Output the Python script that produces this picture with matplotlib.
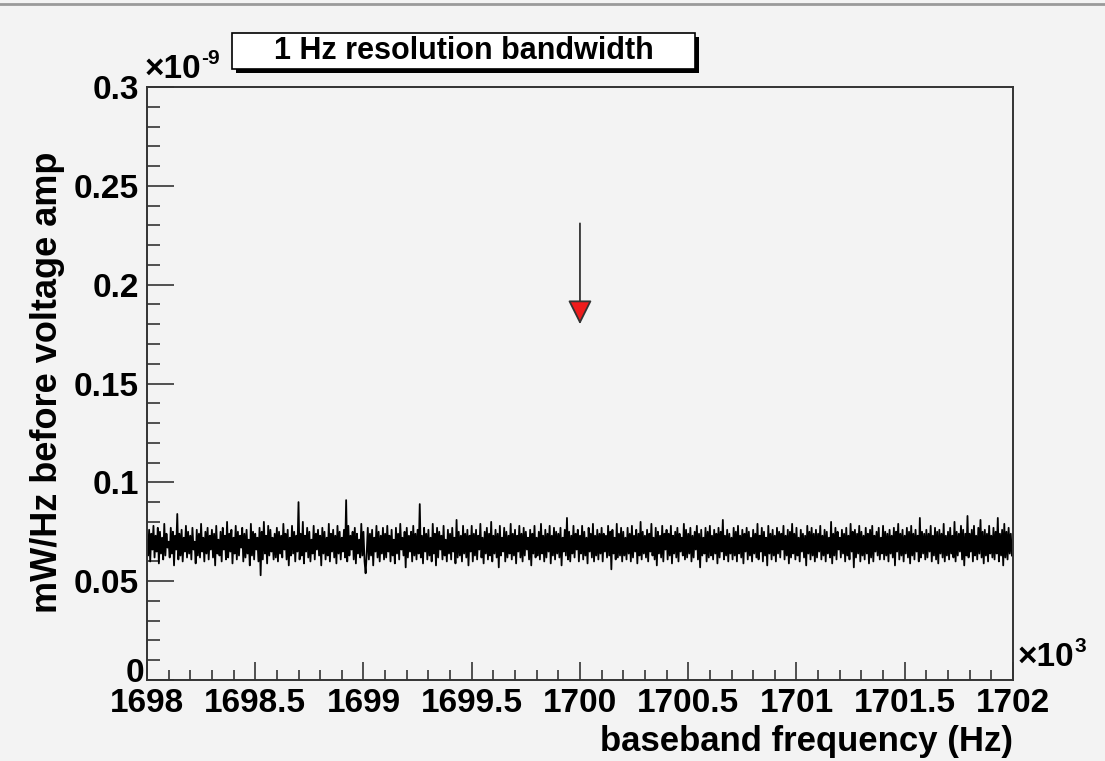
"""
1 Hz resolution bandwidth spectrum around 1.7 MHz (ROOT style canvas)
"""
import numpy as np
import matplotlib.pyplot as plt
from matplotlib.patches import Rectangle
from matplotlib.lines import Line2D
from matplotlib.transforms import ScaledTranslation

plt.rcParams['font.family'] = ['Liberation Sans', 'DejaVu Sans']
plt.rcParams['font.weight'] = 'bold'

# spectrum, in units of 1e-12 mW/Hz, 5 Hz apart from 1698 kHz
power = [
    71, 63, 76, 60, 74, 66, 78, 62, 73, 65, 77, 59, 75, 64, 72, 61, 79, 63, 74, 67,
    70, 62, 77, 64, 75, 58, 73, 66, 84, 61, 74, 63, 76, 60, 72, 65, 78, 62, 75, 64,
    73, 61, 77, 66, 70, 59, 76, 63, 74, 62, 79, 65, 72, 60, 75, 64, 77, 61, 73, 66,
    76, 62, 74, 58, 78, 64, 71, 63, 75, 60, 77, 66, 73, 61, 80, 62, 74, 65, 76, 59,
    72, 64, 78, 61, 75, 63, 73, 67, 77, 60, 74, 62, 76, 64, 71, 58, 79, 63, 75, 61,
    74, 66, 72, 60, 77, 53, 75, 61, 80, 64, 73, 59, 78, 63, 76, 65, 72, 61, 74, 62,
    77, 60, 75, 64, 73, 62, 79, 66, 74, 61, 76, 58, 72, 63, 78, 64, 75, 60, 73, 65,
    90, 61, 74, 63, 80, 59, 73, 65, 77, 62, 75, 60, 71, 64, 78, 61, 74, 66, 76, 63,
    73, 58, 77, 64, 75, 61, 72, 63, 79, 60, 74, 65, 76, 62, 73, 59, 78, 64, 75, 61,
    72, 65, 76, 62, 91, 60, 78, 63, 73, 66, 75, 61, 77, 59, 74, 64, 71, 62, 79, 63,
    75, 60, 54, 64, 77, 61, 74, 63, 76, 58, 72, 65, 78, 62, 75, 60, 73, 64, 77, 61,
    74, 62, 78, 65, 73, 60, 76, 63, 71, 59, 77, 64, 74, 61, 79, 66, 72, 63, 75, 57,
    77, 62, 73, 65, 75, 60, 78, 63, 74, 61, 76, 64, 89, 62, 73, 59, 77, 65, 74, 61,
    76, 63, 72, 60, 79, 64, 74, 58, 77, 62, 75, 66, 73, 61, 78, 63, 71, 60, 76, 64,
    74, 61, 77, 65, 72, 59, 81, 62, 75, 63, 73, 60, 78, 64, 74, 62, 76, 58, 73, 65,
    78, 60, 74, 63, 76, 61, 73, 66, 79, 62, 72, 59, 75, 64, 77, 61, 74, 63, 80, 60,
    73, 64, 76, 62, 74, 57, 78, 63, 72, 65, 77, 60, 75, 62, 73, 64, 79, 61, 74, 63,
    76, 59, 73, 65, 78, 62, 74, 60, 77, 63, 75, 66, 72, 61, 76, 58, 74, 64, 78, 62,
    72, 63, 75, 61, 79, 64, 73, 60, 76, 62, 74, 65, 78, 59, 73, 63, 77, 61, 75, 64,
    74, 62, 77, 58, 72, 65, 76, 63, 82, 61, 75, 60, 73, 64, 78, 62, 74, 66, 76, 60,
    73, 64, 78, 61, 75, 63, 72, 59, 77, 65, 74, 62, 79, 60, 73, 63, 76, 61, 74, 64,
    77, 60, 74, 65, 73, 62, 78, 63, 75, 56, 76, 64, 72, 61, 79, 62, 74, 63, 77, 60,
    75, 63, 72, 61, 77, 64, 74, 60, 78, 62, 73, 65, 76, 59, 74, 63, 80, 61, 75, 64,
    73, 62, 76, 60, 74, 65, 79, 63, 72, 61, 77, 58, 75, 64, 73, 62, 78, 60, 74, 66,
    76, 61, 74, 63, 78, 59, 73, 64, 75, 62, 77, 60, 74, 65, 72, 63, 79, 61, 76, 62,
    74, 64, 77, 60, 73, 62, 75, 66, 78, 61, 74, 57, 76, 63, 72, 64, 77, 60, 75, 62,
    78, 63, 73, 61, 76, 64, 74, 59, 77, 62, 75, 65, 81, 61, 73, 63, 76, 60, 74, 64,
    72, 61, 77, 63, 75, 60, 78, 64, 73, 62, 76, 59, 74, 65, 77, 61, 75, 63, 72, 60,
    76, 64, 74, 62, 79, 61, 73, 65, 77, 60, 75, 63, 72, 58, 78, 64, 74, 61, 76, 63,
    73, 60, 77, 64, 75, 62, 74, 66, 78, 61, 73, 63, 76, 59, 75, 62, 79, 64, 74, 61,
    77, 63, 72, 60, 76, 65, 74, 62, 73, 58, 78, 64, 75, 61, 77, 63, 74, 60, 76, 62,
    74, 65, 78, 61, 73, 63, 76, 60, 75, 64, 72, 62, 80, 59, 74, 63, 77, 61, 75, 66,
    72, 62, 76, 64, 74, 60, 77, 63, 73, 61, 79, 65, 75, 57, 76, 62, 74, 64, 78, 60,
    75, 63, 73, 61, 77, 64, 74, 59, 76, 62, 78, 60, 73, 65, 75, 63, 77, 61, 72, 64,
    78, 61, 75, 63, 74, 60, 76, 64, 73, 62, 77, 58, 75, 65, 79, 61, 74, 63, 76, 60,
    73, 64, 77, 62, 75, 59, 78, 63, 74, 61, 76, 65, 73, 60, 82, 62, 75, 64, 74, 61,
    76, 62, 74, 65, 78, 60, 73, 63, 77, 61, 75, 59, 76, 64, 74, 62, 79, 60, 73, 63,
    75, 61, 77, 64, 73, 62, 80, 60, 75, 63, 74, 65, 78, 61, 76, 58, 74, 63, 83, 62,
    74, 65, 76, 60, 78, 63, 73, 61, 77, 64, 81, 62, 75, 59, 76, 63, 74, 60, 78, 64,
    73, 62, 77, 61, 75, 64, 82, 60, 74, 63, 76, 58, 79, 62, 75, 61, 77, 64, 74, 63,
]
f_start = 1698000.0  # Hz
f_step = 5.0         # Hz

# arrow marking the expected line (x in kHz, y in 1e-9)
arrow_freq = 1700.0
arrow_top = 0.231
arrow_tip = 0.180

title = '1 Hz resolution bandwidth'
xlabel = 'baseband frequency (Hz)'
ylabel = 'mW/Hz before voltage amp'

xticks = [1698, 1698.5, 1699, 1699.5, 1700, 1700.5, 1701, 1701.5, 1702]
xticklabels = ['1698', '1698.5', '1699', '1699.5', '1700', '1700.5',
               '1701', '1701.5', '1702']
yticks = [0, 0.05, 0.1, 0.15, 0.2, 0.25, 0.3]
yticklabels = ['0', '0.05', '0.1', '0.15', '0.2', '0.25', '0.3']

freq_khz = (f_start + f_step * np.arange(len(power))) / 1e3
power_e9 = np.array(power) * 1e-3

bg = '#f3f3f3'
fig = plt.figure(figsize=(11.05, 7.61), dpi=100, facecolor=bg)
ax = fig.add_axes([0.133, 0.1064, 0.7837, 0.7793], facecolor=bg)

ax.plot(freq_khz, power_e9, color='black', lw=1.3)
ax.annotate('', xy=(arrow_freq, arrow_tip), xytext=(arrow_freq, arrow_top),
            arrowprops=dict(arrowstyle='-|>,head_length=1.0,head_width=0.5',
                            mutation_scale=15, fc='#ee1c1c', ec='#333333',
                            lw=1.3, shrinkA=0, shrinkB=0))

ax.set_xlim(1698, 1702)
ax.set_ylim(0, 0.3)
ax.set_xticks(xticks)
ax.set_xticklabels(xticklabels)
ax.set_xticks(np.arange(1698, 1702.001, 0.1), minor=True)
ax.set_yticks(yticks)
ax.set_yticklabels(yticklabels)
ax.set_yticks(np.arange(0, 0.3001, 0.01), minor=True)

ax.tick_params(axis='both', which='both', direction='in', labelsize=24,
               color='#333333', width=1.2)
ax.tick_params(axis='y', which='major', length=19.4, pad=6)
ax.tick_params(axis='y', which='minor', length=9.4)
ax.tick_params(axis='x', which='major', length=13, pad=6)
ax.tick_params(axis='x', which='minor', length=7)
for s in ax.spines.values():
    s.set_color('#333333')
    s.set_linewidth(1.4)

# the "0" label sits a little above its tick, as in the original
zero = ax.get_yticklabels()[0]
zero.set_transform(zero.get_transform()
                   + ScaledTranslation(4 / 72, 7 / 72, fig.dpi_scale_trans))

# exponent texts in ROOT style
t9 = fig.text(145 / 1105, 1 - 85 / 761, '\u00d710', fontsize=24,
              ha='left', va='bottom')
ax.annotate('-9', xy=(1.0, 0.55), xycoords=t9, fontsize=15,
            ha='left', va='bottom')
t3 = fig.text(1018 / 1105, 1 - 673 / 761, '\u00d710', fontsize=24,
              ha='left', va='bottom')
ax.annotate('3', xy=(1.0, 0.55), xycoords=t3, fontsize=15,
            ha='left', va='bottom')

fig.text(0.043, 0.497, ylabel, rotation=90, fontsize=26, ha='center',
         va='center')
fig.text(0.917, 0.004, xlabel, fontsize=25, ha='right', va='bottom')

# title box with ROOT style shadow
bx0, by0, bw, bh = 232 / 1105, 1 - 69 / 761, 463 / 1105, 36 / 761
fig.patches.append(Rectangle((bx0 + 4 / 1105, by0 - 4 / 761), bw, bh,
                             transform=fig.transFigure, fc='black', ec='none'))
fig.patches.append(Rectangle((bx0, by0), bw, bh, transform=fig.transFigure,
                             fc='white', ec='black', lw=1.2))
fig.text(bx0 + bw / 2, by0 + bh / 2, title, fontsize=22, ha='center',
         va='center')

fig.lines.append(Line2D([0, 1], [1 - 4 / 761, 1 - 4 / 761],
                        transform=fig.transFigure, color='#9a9a9a', lw=2))

fig.savefig('out.png', dpi=100, facecolor=bg)
